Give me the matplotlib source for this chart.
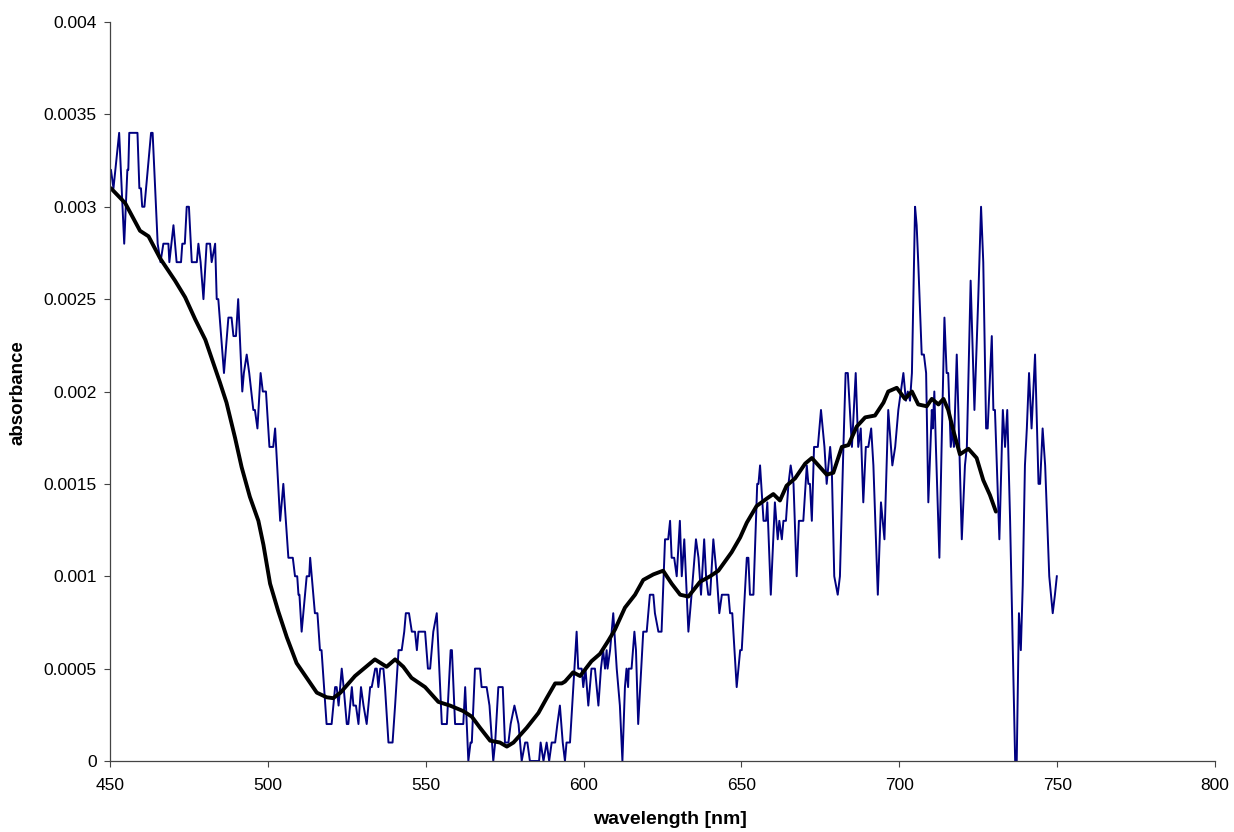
import numpy as np
import matplotlib.pyplot as plt

plt.rcParams["font.family"] = ["Liberation Sans", "DejaVu Sans"]

# measured spectrum (wavelength nm, absorbance in units of 1e-4)
blue_wl = [
    450.0, 450.3, 451.1, 452.9, 454.5, 455.5, 455.8, 456.1, 458.7, 459.3, 459.8, 460.2, 460.9,
    463.0, 463.5, 465.1, 466.0, 466.9, 468.5, 468.8, 470.1, 471.1, 472.5, 472.9, 473.7, 474.3,
    475.0, 475.9, 477.5, 478.0, 478.7, 479.6, 480.6, 481.7, 482.2, 483.3, 483.8, 484.3, 486.1,
    487.5, 488.5, 489.1, 489.9, 490.6, 491.9, 492.4, 493.3, 494.1, 495.4, 495.9, 496.7, 497.7,
    498.4, 499.4, 500.5, 501.7, 502.3, 503.9, 504.9, 506.5, 507.9, 508.6, 509.3, 509.7, 510.0,
    510.7, 512.3, 513.1, 513.4, 514.9, 515.7, 516.5, 517.0, 518.6, 520.2,
    521.3, 521.8, 522.4, 523.4, 524.0, 525.0, 525.5, 526.6, 527.1, 527.9, 528.7, 529.5, 530.3,
    531.3, 532.4, 532.9, 534.0, 534.5, 535.0, 535.6, 536.6, 537.1, 538.2, 539.5, 540.3, 541.4,
    542.4, 543.2, 543.7, 544.7, 545.6, 546.6, 547.2, 547.7, 549.8, 550.7, 551.4, 551.9, 552.4,
    553.5, 555.1, 556.7, 557.3, 557.9, 558.3,
    559.3, 561.9, 562.5, 563.5, 564.2, 564.6, 565.6, 567.2, 567.7, 569.3, 570.2, 571.4, 572.0,
    573.0, 574.4, 575.1, 576.2, 576.9, 578.1, 579.4, 580.4, 581.5, 582.2, 583.0, 585.9, 586.4,
    587.3, 588.3, 589.1, 589.9, 591.0, 591.7, 592.5, 593.4,
    594.1, 594.6, 595.7, 597.8, 598.3, 599.4, 599.9, 600.6, 601.5, 602.0, 602.5, 603.6, 604.7,
    605.5, 606.2, 606.8, 607.3, 607.6, 608.4, 608.9, 609.4, 610.5, 611.5, 612.3, 613.1, 613.6,
    614.1, 614.3, 615.2, 616.1, 616.6, 617.3, 618.9, 620.0, 621.0, 622.1, 622.6, 623.7, 624.7,
    625.8, 626.3, 626.8, 627.4, 627.9, 628.7, 629.5, 630.5, 631.1, 631.9,
    633.2, 634.2, 635.6, 636.4, 637.2, 638.2, 638.8, 639.5, 640.1, 641.1, 642.2, 643.0, 643.8,
    645.9, 646.4, 647.1, 648.5, 649.6, 650.1, 651.7, 652.2, 652.7, 653.8, 655.0, 655.4, 655.9,
    657.0, 657.8, 658.2, 659.3, 660.6, 661.5, 662.0, 662.8, 663.3, 664.1, 664.9, 665.6, 666.5,
    667.5, 668.2, 669.6, 670.7, 671.2, 671.7, 672.3, 673.0, 674.2, 675.2, 676.3, 677.0, 678.1,
    678.6, 679.4, 680.5, 681.2, 682.3, 683.0, 683.7, 685.0, 686.2, 687.0, 687.8, 688.6, 689.4,
    690.2, 691.1, 691.8, 693.2, 694.2, 695.3, 696.5, 697.8, 698.7, 699.7, 701.3, 702.1, 702.7,
    703.4, 704.0, 705.0, 705.5, 706.0, 707.1, 707.8, 708.5, 709.2, 710.3, 710.6, 711.1, 711.6,
    712.7, 713.4, 714.3, 715.0, 715.5, 716.3, 716.9, 717.3, 718.2, 718.7, 719.8, 720.8, 721.4,
    722.6, 723.8, 725.0, 725.9, 726.6, 727.5, 728.0, 729.3, 729.8, 730.3, 731.7, 732.8, 733.5,
    734.2, 735.1, 736.7, 737.2, 737.9, 738.5, 739.1, 739.8, 740.4, 741.1, 741.9, 743.0, 744.1,
    744.6, 745.4, 746.2, 747.5, 748.6, 749.3, 749.9,
]
blue_val = [
    32, 32, 31, 34, 28, 32, 32, 34, 34, 31, 31, 30, 30,
    34, 34, 28, 27, 28, 28, 27, 29, 27, 27, 28, 28, 30,
    30, 27, 27, 28, 27, 25, 28, 28, 27, 28, 25, 25, 21,
    24, 24, 23, 23, 25, 20, 21, 22, 21, 19, 19, 18, 21,
    20, 20, 17, 17, 18, 13, 15, 11, 11, 10, 10, 9, 9,
    7, 10, 10, 11, 8, 8, 6, 6, 2, 2,
    4, 4, 3, 5, 4, 2, 2, 4, 3, 3, 2, 4, 3,
    2, 4, 4, 5, 5, 4, 5, 5, 4, 1, 1, 3, 6,
    6, 7, 8, 8, 7, 7, 6, 7, 7, 5, 5, 6, 7,
    8, 2, 2, 4, 6, 6,
    2, 2, 4, 0, 1, 1, 5, 5, 4, 4, 3, 0, 1,
    4, 4, 1, 1, 2, 3, 2, 0, 1, 1, 0, 0, 1,
    0, 1, 0, 1, 1, 2, 3, 1,
    0, 1, 1, 7, 5, 5, 4, 5, 3, 4, 5, 5, 3,
    5, 6, 5, 6, 5, 6, 7, 8, 5, 3, 0, 4, 5,
    4, 5, 5, 7, 6, 2, 7, 7, 9, 9, 8, 7, 7,
    12, 12, 12, 13, 11, 11, 10, 13, 10, 12,
    7, 9, 12, 11, 9, 12, 10, 9, 9, 12, 10, 8, 9,
    9, 8, 8, 4, 6, 6, 11, 11, 9, 9, 15, 15, 16,
    13, 13, 14, 9, 14, 12, 13, 12, 13, 13, 15, 16, 15,
    10, 13, 13, 16, 15, 15, 13, 17, 17, 19, 17, 15, 17,
    16, 10, 9, 10, 17, 21, 21, 17, 21, 17, 18, 14, 17,
    17, 18, 16, 9, 14, 12, 19, 16, 17, 19, 21, 19.5, 20,
    19.5, 21, 30, 29, 27, 22, 22, 21, 14, 19, 18, 20, 17,
    11, 17, 24, 21, 21, 17, 18, 17, 22, 19, 12, 16, 17,
    26, 19, 25, 30, 27, 18, 18, 23, 19, 19, 12, 19, 17,
    19, 13, 0, 0, 8, 6, 9.5, 16, 18, 21, 18, 22, 15,
    15, 18, 16, 10, 8, 9, 10,
]

# smoothed curve
black_wl = [
    450.3, 454.8, 459.5, 462.2, 465.9, 470.6, 473.8, 477.0, 480.2, 484.8, 486.9, 489.6, 491.7,
    494.3, 497.0, 498.6, 500.7, 503.3, 506.0, 509.1, 512.3, 515.5, 518.6, 520.7, 523.0, 527.6,
    533.9, 537.6, 540.3, 542.9, 545.5, 549.8, 554.0, 557.7, 561.9, 564.6, 567.2, 570.4, 573.5,
    575.7, 577.8, 582.0, 585.7, 588.3, 591.0, 593.1, 594.1, 596.7, 598.9, 602.5, 605.2, 607.8,
    609.9, 613.1, 616.3, 618.9, 622.1, 625.2, 627.9, 630.6, 633.2, 636.9, 640.1, 642.7, 646.9,
    649.6, 651.7, 654.8, 658.0, 660.1, 662.2, 664.3, 667.0, 670.2, 672.3, 674.4, 677.0, 679.1,
    681.8, 683.9, 686.5, 689.2, 692.3, 695.0, 696.5, 699.2, 701.8, 704.0, 706.0, 708.7, 710.3,
    712.4, 714.0, 715.5, 717.1, 719.2, 721.9, 724.5, 726.6, 728.7, 730.6,
]
black_val = [
    31.0, 30.2, 28.7, 28.4, 27.2, 26.0, 25.1, 23.9, 22.8, 20.5, 19.4, 17.5, 15.9,
    14.3, 13.0, 11.7, 9.6, 8.1, 6.7, 5.3, 4.5, 3.7, 3.45, 3.4, 3.7, 4.6,
    5.5, 5.1, 5.5, 5.1, 4.5, 4.0, 3.2, 3.0, 2.7, 2.4, 1.8, 1.1, 1.0,
    0.78, 1.0, 1.8, 2.6, 3.4, 4.2, 4.2, 4.3, 4.8, 4.6, 5.4, 5.8, 6.5,
    7.1, 8.3, 9.0, 9.8, 10.1, 10.3, 9.6, 9.0, 8.9, 9.7, 10.0, 10.3, 11.3,
    12.1, 12.9, 13.8, 14.2, 14.45, 14.1, 14.9, 15.3, 16.1, 16.4, 16.0, 15.5, 15.6,
    17.0, 17.1, 18.1, 18.6, 18.7, 19.4, 20.0, 20.2, 19.6, 20.0, 19.3, 19.2, 19.6,
    19.3, 19.6, 19.0, 17.9, 16.6, 16.9, 16.4, 15.2, 14.4, 13.5,
]

xticks = [450, 500, 550, 600, 650, 700, 750, 800]
yticks = [0, 0.0005, 0.001, 0.0015, 0.002, 0.0025, 0.003, 0.0035, 0.004]
ylabels = ["0", "0.0005", "0.001", "0.0015", "0.002", "0.0025", "0.003", "0.0035", "0.004"]

fig = plt.figure(figsize=(12.34, 8.32), dpi=100)
ax = fig.add_axes([110 / 1234, 71 / 832, 1105 / 1234, 739 / 832])

ax.plot(blue_wl, np.array(blue_val) * 1e-4, color="#000080", lw=1.4)
ax.plot(black_wl, np.array(black_val) * 1e-4, color="black", lw=2.8, solid_capstyle="round")

ax.set_xlim(450, 800)
ax.set_ylim(0, 0.004)
ax.set_xticks(xticks)
ax.set_yticks(yticks)
ax.set_yticklabels(ylabels)
ax.tick_params(labelsize=12.5, direction="out", length=4.5, width=0.8, color="#444444")
ax.tick_params(axis="x", pad=8)
ax.tick_params(axis="y", pad=5)
for s in ["top", "right"]:
    ax.spines[s].set_visible(False)
for s in ["left", "bottom"]:
    ax.spines[s].set_color("#444444")
    ax.spines[s].set_linewidth(0.9)

fig.text(670 / 1234, 1 - 820 / 832, "wavelength [nm]", fontsize=14, fontweight="bold",
         ha="center", va="center")
fig.text(18.5 / 1234, 1 - 393 / 832, "absorbance", fontsize=13.5, fontweight="bold",
         ha="center", va="center", rotation=90)

fig.savefig("out.png", dpi=100)
